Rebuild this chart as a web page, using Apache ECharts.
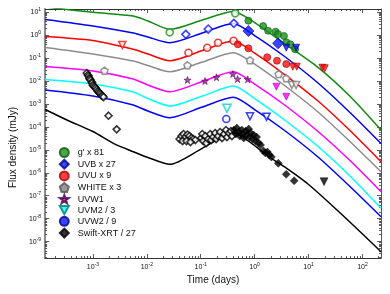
<!DOCTYPE html>
<html><head><meta charset="utf-8">
<script src="https://cdn.jsdelivr.net/npm/echarts@6/dist/echarts.min.js"></script>
<style>html,body{margin:0;padding:0;background:#fff}#c{width:390px;height:294px}</style>
</head><body><div id="c"></div>
<script>
// ---- model curves (time in days, flux in mJy) ----
const modelT = [1.3e-4, 1e-3, 5.6e-3, 0.0105, 0.0266, 0.107, 0.4, 1, 3.5, 15, 60, 221];
const gModel  = [16.6, 9.74, 6.72, 4.07, 1.77, 4.5, 10.56, 3.5, 0.444, 0.0392, 2.06e-3, 7.29e-5];
const bModel  = [4.73, 2.47, 1.22, 0.818, 0.462, 1.22, 3.17, 0.951, 0.1217, 8.12e-3, 4.01e-4, 1.88e-5];
const uModel  = [0.86, 0.576, 0.238, 0.1488, 0.076, 0.2113, 0.548, 0.1644, 0.02, 1.335e-3, 6.59e-5, 3.03e-6];
const wModel  = [0.2855, 0.1488, 0.0737, 0.0469, 0.0252, 0.0667, 0.1695, 0.0546, 6.64e-3, 4.43e-4, 2.19e-5, 1.11e-6];
const w1Model = [0.04246, 0.02704, 0.01213, 6.64e-3, 3.39e-3, 9.43e-3, 0.0252, 7.34e-3, 9.4e-4, 6.27e-5, 3.25e-6, 1.5e-7];
const m2Model = [0.01153, 7.34e-3, 3.29e-3, 1.715e-3, 8.09e-4, 2.2e-3, 6.01e-3, 1.715e-3, 2.09e-4, 1.39e-5, 6.87e-7, 2.83e-8];
const w2Model = [4.02e-3, 2.2e-3, 8.94e-4, 4.9e-4, 2.5e-4, 7.31e-4, 1.935e-3, 5.69e-4, 7.29e-5, 4.86e-6, 2.4e-7, 1.22e-8];
const xrtModelT = [1.3e-4, 3.3e-4, 1e-3, 2.4e-3, 5.6e-3, 0.0105, 0.0266, 0.107, 0.4, 0.88, 1.66, 3.54, 9.75, 39.2, 221];
const xrtModel  = [5.69e-4, 1.99e-4, 6.27e-5, 1.92e-5, 8.27e-6, 4.62e-6, 2.34e-6, 1.16e-5, 5.39e-5, 1.92e-5, 5.94e-6, 1.84e-6, 3.24e-7, 1.72e-8, 3.65e-10];

// ---- observations [t, flux] ----
const gOpen = [[0.0266,1.31],[0.436,8.81]];
const gPts  = [[0.767,4.2],[1.44,2.47],[1.78,1.54],[2.45,1.39],[2.72,1.105],[3.5,0.905],[3.86,0.481],[4.62,0.394],[5.64,0.238]];
const bOpen = [[0.0529,1.07],[0.1378,1.825],[0.412,3.23]];
const bPts  = [[0.767,1.49],[2.72,0.435]];
const bUL   = [[3.86,0.28],[5.88,0.28]];
const uOpenUL = [[3.51e-3,0.367]];
const uOpen = [[0.0593,0.1695],[0.132,0.28],[0.21,0.462],[0.407,0.565]];
const uPts  = [[0.488,0.394],[0.767,0.2634],[1.71,0.1068],[2.6,0.076],[3.86,0.0546]];
const uUL   = [[5.11,0.0416],[6.05,0.0416],[18.1,0.0377],[20,0.0355]];
const wOpen = [[1.64e-3,0.0279],[0.0568,0.0479],[0.82,0.0791],[2.79,0.02],[3.86,0.013]];
const wOpenUL = [[4.9,6.64e-3],[5.88,6.64e-3]];
const w1Pts = [[0.0568,0.011],[0.12,9.92e-3],[0.1956,0.01438],[0.3955,0.02],[0.482,0.01213],[0.744,0.01177]];
const w1UL  = [[2.53,5.6e-3],[3.86,2.05e-3]];
const m2OpenUL = [[0.307,6.42e-4]];
const w2Open = [[0.298,2.2e-4]];
const w2OpenUL = [[0.82,2.88e-4],[1.66,2.76e-4]];
const xOpen = [
 [7.7e-4,0.0221],[8.03e-4,0.0181],[8.38e-4,0.01638],[8.55e-4,0.0134],[8.74e-4,0.01213],[9.11e-4,0.01097],
 [9.51e-4,8.97e-3],[9.71e-4,8.12e-3],[9.92e-4,6.64e-3],[1.034e-3,6.01e-3],[1.079e-3,5.43e-3],[1.125e-3,4.91e-3],
 [1.174e-3,4.23e-3],[1.224e-3,3.64e-3],[1.277e-3,3.29e-3],[1.332e-3,2.98e-3],[1.39e-3,2.69e-3],[1.449e-3,2.32e-3],
 [1.512e-3,2.2e-3],[1.577e-3,1.99e-3],[1.95e-3,3.06e-4],[2.76e-3,7.81e-5],
 [0.0406,2.95e-5],[0.0441,3.99e-5],[0.048,4.88e-5],[0.0522,3.61e-5],[0.0568,4.64e-5],[0.0618,3.99e-5],
 [0.0673,3.27e-5],[0.0732,2.95e-5],[0.0796,2.67e-5],[0.046,2.42e-5],[0.0545,2.42e-5],[0.0645,2.19e-5],
 [0.1026,3.27e-5],[0.107,4.88e-5],[0.1116,2.42e-5],[0.1214,3.99e-5],[0.1266,1.98e-5],[0.1378,2.95e-5],
 [0.15,4.88e-5],[0.1563,2.67e-5],[0.1701,3.61e-5],[0.1851,5.39e-5],[0.1931,2.95e-5],[0.21,3.99e-5],
 [0.2286,5.96e-5],[0.2487,3.27e-5],[0.2705,4.88e-5],[0.2944,7.29e-5],[0.307,3.61e-5],[0.3342,5.39e-5],
 [0.3635,6.59e-5],[0.3792,3.99e-5]];
const xPts = [
 [0.4124,7.29e-5],[0.4487,4.88e-5],[0.468,8.9e-5],[0.5093,5.96e-5],[0.5312,3.99e-5],[0.578,7.29e-5],
 [0.603,4.88e-5],[0.629,3.27e-5],[0.684,6.59e-5],[0.714,4.41e-5],[0.776,8.05e-5],[0.81,3.61e-5],
 [0.845,5.39e-5],[0.919,2.95e-5],[0.959,4.41e-5],[1.043,2.42e-5],[1.088,3.61e-5],[1.184,1.98e-5],
 [1.288,1.62e-5],[1.462,8.87e-6],[1.59,7.26e-6],[1.73,8.02e-6],[1.883,5.94e-6],[2.048,4.86e-6],
 [2.752,2.58e-6],[3.855,8.57e-7],[5.4,4.51e-7]];
const xUL = [[19.4,4.08e-7]];

const names = ["g' x 81","UVB x 27","UVU x 9","WHITE x 3","UVW1","UVM2 / 3","UVW2 / 9","Swift-XRT / 27"];

// axis ranges and tick decades
const xRange = [1.3e-4, 221];
const yRange = [1.94e-10, 13.6];
const xDecades = [-4, -3, -2, -1, 0, 1, 2];
const yDecades = [-10, -9, -8, -7, -6, -5, -4, -3, -2, -1, 0, 1];

function majors(dec, r){ return dec.map(e=>Math.pow(10,e)).filter(v=>v>=r[0]*0.999 && v<=r[1]*1.001); }
function minors(dec, r){ const out=[]; dec.forEach(e=>{ for(let k=2;k<=9;k++){ const v=k*Math.pow(10,e); if(v>r[0] && v<r[1]) out.push(v); } }); return out; }

const TRI = 'path://M0,0 L10,0 L5,9 Z';
const PENT = 'path://M5,0 L10,3.8 L8.1,10 L1.9,10 L0,3.8 Z';
const STAR = 'path://M5,0 L6.2,3.6 L10,3.6 L6.9,5.9 L8.1,9.5 L5,7.3 L1.9,9.5 L3.1,5.9 L0,3.6 L3.8,3.6 Z';

function zip(t, f){ return t.map((v,i)=>[v,f[i]]); }
function openPt(p, c, sym, size){ const o={value:p, itemStyle:{color:'#fff', borderColor:c, borderWidth:1.6}}; if(sym) o.symbol=sym; if(size) o.symbolSize=size; return o; }
function ulPt(p, size){ return {value:p, symbol:TRI, symbolSize:size||7}; }

function lineSeries(t, f, color){
  return {type:'line', data:zip(t,f), showSymbol:false, symbol:'none', smooth:0.25, lineStyle:{color:color, width:1.5}, z:2, silent:true, legendHoverLink:false};
}

const series = [
  lineSeries(modelT,gModel,'#118a11'),
  lineSeries(modelT,bModel,'#0000ff'),
  lineSeries(modelT,uModel,'#ff0000'),
  lineSeries(modelT,wModel,'#8c8c8c'),
  lineSeries(modelT,w1Model,'#ff00ff'),
  lineSeries(modelT,m2Model,'#00ffff'),
  lineSeries(modelT,w2Model,'#0000ff'),
  lineSeries(xrtModelT,xrtModel,'#000000'),
  {name:names[0], type:'scatter', symbol:'circle', symbolSize:7, z:5,
   itemStyle:{color:'#1a8f1a', borderColor:'#0b5a0b', borderWidth:0.8},
   data:[...gOpen.map(p=>openPt(p,'#1a8f1a')), ...gPts]},
  {name:names[1], type:'scatter', symbol:'diamond', symbolSize:8, z:5,
   itemStyle:{color:'#0a14ff', borderColor:'#00008a', borderWidth:0.8},
   data:[...bOpen.map(p=>openPt(p,'#0a14ff')), ...bPts.map(p=>({value:p, symbolSize:11})), ...bUL.map(p=>ulPt(p,7))]},
  {name:names[2], type:'scatter', symbol:'circle', symbolSize:7, z:5,
   itemStyle:{color:'#ff1010', borderColor:'#a00000', borderWidth:0.8},
   data:[...uOpenUL.map(p=>openPt(p,'#ff1010',TRI,7)), ...uOpen.map(p=>openPt(p,'#e01010')), ...uPts, ...uUL.map(p=>ulPt(p,7))]},
  {name:names[3], type:'scatter', symbol:PENT, symbolSize:7, z:5,
   itemStyle:{color:'#808080', borderColor:'#555', borderWidth:0.8},
   data:[...wOpen.map(p=>openPt(p,'#7a7a7a')), ...wOpenUL.map(p=>openPt(p,'#7a7a7a',TRI,7))]},
  {name:names[4], type:'scatter', symbol:STAR, symbolSize:7, z:5,
   itemStyle:{color:'#a0189a', borderColor:'#4a004a', borderWidth:0.7},
   data:[...w1Pts, ...w1UL.map(p=>({value:p, symbol:TRI, symbolSize:7, itemStyle:{color:'#ff00ff', borderColor:'#900090'}}))]},
  {name:names[5], type:'scatter', symbol:TRI, symbolSize:8, z:5,
   itemStyle:{color:'#00ffff', borderColor:'#007a7a', borderWidth:0.8},
   data:[...m2OpenUL.map(p=>openPt(p,'#00d0d0',TRI,8))]},
  {name:names[6], type:'scatter', symbol:'circle', symbolSize:7, z:5,
   itemStyle:{color:'#0a14ff', borderColor:'#00008a', borderWidth:0.8},
   data:[...w2Open.map(p=>openPt(p,'#0a14ff')), ...w2OpenUL.map(p=>openPt(p,'#0a14ff',TRI,7))]},
  {name:names[7], type:'scatter', symbol:'diamond', symbolSize:8, z:6,
   itemStyle:{color:'#000', borderColor:'#000', borderWidth:0.5},
   data:[...xOpen.map(p=>openPt(p,'#000',null,7)), ...xPts, ...xUL.map(p=>ulPt(p,8))]}
];

const FF = 'Liberation Sans, Arial, sans-serif';
const rich = {
  b:{fontSize:7, fontFamily:FF, color:'#111'},
  s:{fontSize:5, fontFamily:FF, color:'#111', padding:[0,0,5,0]}
};
function fmt(v){
  const l = Math.log10(v); const e = Math.round(l);
  if (Math.abs(l-e) > 1e-6) return '';
  return '{b|10}{s|' + e + '}';
}
// one axis = either major ticks (+line, labels) or minor ticks only
function ax(pos, range, ticks, len, opts){
  const o = {
    type:'log', logBase:10, position:pos, min:range[0], max:range[1], splitLine:{show:false},
    axisLine:{show:false, onZero:false},
    axisTick:{show:true, inside:true, length:len, customValues:ticks, lineStyle:{color:'#333', width:0.8}},
    minorTick:{show:false},
    axisLabel:{show:false}
  };
  return Object.assign(o, opts||{});
}
const xMaj = majors(xDecades, xRange), xMin = minors(xDecades, xRange);
const yMaj = majors(yDecades, yRange), yMin = minors(yDecades, yRange);
const line = (c,w)=>({show:true, onZero:false, lineStyle:{color:c, width:w}});

const option = {
  animation:false,
  backgroundColor:'#fff',
  grid:{left:41, right:9, top:9, bottom:36, containLabel:false},
  xAxis:[
    ax('bottom', xRange, xMaj, 4, {axisLine:line('#333',1),
       axisLabel:{show:true, customValues:xMaj, formatter:fmt, rich:rich, margin:4},
       name:'Time (days)', nameLocation:'middle', nameGap:16,
       nameTextStyle:{fontSize:10, fontFamily:FF, color:'#111', verticalAlign:'top'}}),
    ax('bottom', xRange, xMin, 2),
    ax('top', xRange, xMaj, 4, {axisLine:line('#333',1)}),
    ax('top', xRange, xMin, 2)
  ],
  yAxis:[
    ax('left', yRange, yMaj, 4, {axisLine:line('#8a8a8a',2),
       axisLabel:{show:true, customValues:yMaj, formatter:fmt, rich:rich, margin:4},
       name:'Flux density (mJy)', nameLocation:'middle', nameGap:24,
       nameTextStyle:{fontSize:10, fontFamily:FF, color:'#111', padding:[0,28,0,0]}}),
    ax('left', yRange, yMin, 2),
    ax('right', yRange, yMaj, 4, {axisLine:line('#555',1)}),
    ax('right', yRange, yMin, 2)
  ],
  legend:{
    data:names, orient:'vertical', left:53.8, top:142, itemWidth:9, itemHeight:9, itemGap:0.7,
    textStyle:{fontSize:9, fontFamily:FF, color:'#111', padding:[0,0,0,4]}, selectedMode:false
  },
  series:series
};
const chart = echarts.init(document.getElementById('c'), null, {renderer:'canvas'});
chart.setOption(option);
</script></body></html>
